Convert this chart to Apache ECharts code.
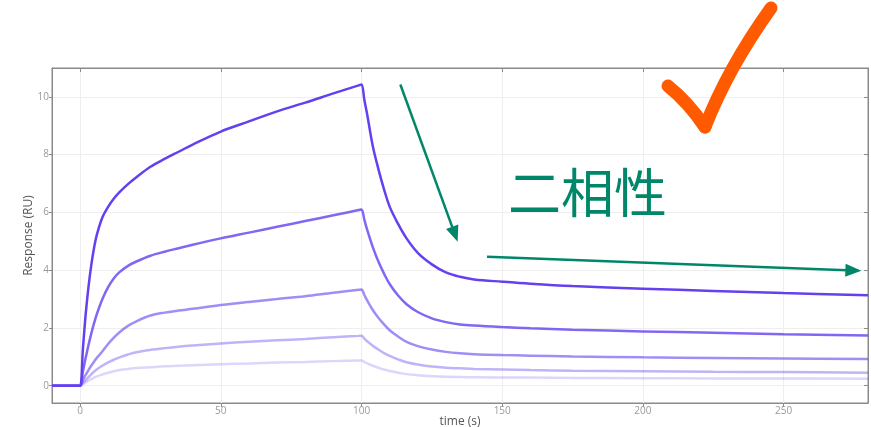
<!DOCTYPE html>
<html>
<head>
<meta charset="utf-8">
<script src="https://cdn.jsdelivr.net/npm/echarts@6/dist/echarts.min.js"></script>
<style>
  html, body { margin: 0; padding: 0; background: #fff; }
  #chart { width: 871px; height: 427px; }
</style>
</head>
<body>
<div id="chart"></div>
<script>
// Sensorgram: association (0–100 s) then dissociation (100–280 s), five analyte concentrations
const time = [-10, -1, 0, 1, 2, 3, 4, 5, 6, 8, 10, 12, 14, 17, 20, 25, 30, 35, 40, 50, 60, 70, 80, 90, 99, 100,
  101, 102, 104, 106, 108, 110, 113, 116, 120, 125, 130, 135, 140, 150, 160, 175, 200, 225, 250, 280];

const conc1 = [0, 0, 0, 1.3, 2.5, 3.45, 4.2, 4.8, 5.25, 5.85, 6.2, 6.48, 6.7, 6.98, 7.22, 7.58, 7.85, 8.1, 8.35,
  8.8, 9.15, 9.5, 9.8, 10.12, 10.4, 10.43, 9.9, 9.4, 8.3, 7.5, 6.8, 6.2, 5.6, 5.1, 4.6, 4.2, 3.92, 3.77, 3.68,
  3.6, 3.53, 3.45, 3.36, 3.28, 3.21, 3.13];
const conc2 = [0, 0, 0, 0.5, 0.98, 1.42, 1.82, 2.18, 2.5, 3.02, 3.42, 3.72, 3.93, 4.15, 4.3, 4.5, 4.64, 4.76, 4.88,
  5.1, 5.3, 5.5, 5.7, 5.9, 6.08, 6.1, 5.75, 5.4, 4.8, 4.3, 3.88, 3.52, 3.12, 2.82, 2.55, 2.33, 2.2, 2.12, 2.08,
  2.03, 1.99, 1.94, 1.88, 1.83, 1.78, 1.74];
const conc3 = [0, 0, 0, 0.2, 0.38, 0.55, 0.7, 0.84, 0.97, 1.2, 1.45, 1.66, 1.85, 2.07, 2.23, 2.43, 2.53, 2.6, 2.66,
  2.79, 2.9, 3.0, 3.1, 3.22, 3.32, 3.33, 3.14, 2.95, 2.62, 2.35, 2.12, 1.92, 1.7, 1.52, 1.37, 1.25, 1.17, 1.12, 1.09,
  1.06, 1.04, 1.01, 0.98, 0.96, 0.94, 0.92];
const conc4 = [0, 0, 0, 0.1, 0.2, 0.3, 0.4, 0.49, 0.57, 0.7, 0.81, 0.9, 0.98, 1.08, 1.16, 1.24, 1.3, 1.35, 1.39,
  1.46, 1.52, 1.57, 1.62, 1.68, 1.725, 1.73, 1.63, 1.54, 1.38, 1.25, 1.13, 1.03, 0.91, 0.81, 0.73, 0.66, 0.62, 0.6, 0.58,
  0.56, 0.54, 0.52, 0.5, 0.48, 0.47, 0.45];
const conc5 = [0, 0, 0, 0.06, 0.12, 0.18, 0.23, 0.28, 0.32, 0.39, 0.45, 0.5, 0.54, 0.58, 0.61, 0.64, 0.67, 0.69, 0.71,
  0.74, 0.77, 0.8, 0.82, 0.85, 0.868, 0.87, 0.82, 0.77, 0.69, 0.62, 0.56, 0.51, 0.45, 0.4, 0.36, 0.33, 0.31, 0.3, 0.29,
  0.28, 0.28, 0.27, 0.26, 0.25, 0.25, 0.24];

const xTicks = [0, 50, 100, 150, 200, 250];
const yTicks = [0, 2, 4, 6, 8, 10];

// Two-phase trend arrows, in data coordinates
const arrowFast = [[113.8, 10.43], [133.2, 5.24]];
const arrowSlow = [[144.6, 4.46], [274.8, 3.99]];

const curves = [
  { values: conc5, color: 'rgba(100, 64, 240, 0.22)' },
  { values: conc4, color: 'rgba(100, 64, 240, 0.40)' },
  { values: conc3, color: 'rgba(100, 64, 240, 0.60)' },
  { values: conc2, color: 'rgba(100, 64, 240, 0.80)' },
  { values: conc1, color: 'rgba(100, 64, 240, 1.0)' }
];

const axisGray = '#8a8a8a';
const labelFont = { fontFamily: 'Open Sans', fontSize: 10, color: '#9a9a9a' };

const series = curves.map(c => ({
  type: 'line',
  data: time.map((t, i) => [t, c.values[i]]),
  showSymbol: false,
  symbol: 'none',
  smooth: 0.35,
  lineStyle: { color: c.color, width: 2.5 },
  z: 3
}));

series.push({
  type: 'line',
  data: [],
  silent: true,
  markLine: {
    silent: true,
    symbol: ['none', 'triangle'],
    symbolSize: [13, 16],
    label: { show: false },
    lineStyle: { color: '#008769', width: 2.5, type: 'solid' },
    data: [
      [{ coord: arrowFast[0] }, { coord: arrowFast[1] }],
      [{ coord: arrowSlow[0] }, { coord: arrowSlow[1] }]
    ]
  },
  z: 4
});

// Hand-drawn check mark strokes
const tickStroke = {
  fill: 'none',
  stroke: '#ff5a00',
  lineWidth: 13,
  lineCap: 'round',
  lineJoin: 'round'
};

const chart = echarts.init(document.getElementById('chart'), null, { renderer: 'canvas' });
chart.setOption({
  animation: false,
  backgroundColor: '#fff',
  grid: {
    left: 52, right: 3, top: 68, bottom: 24,
    outerBoundsMode: 'none',
    containLabel: false,
    show: true, borderColor: axisGray, borderWidth: 1
  },
  xAxis: [{
    type: 'value', min: -10, max: 280, position: 'bottom',
    name: 'time (s)', nameLocation: 'middle', nameGap: 13, nameMoveOverlap: false,
    nameTextStyle: { fontFamily: 'Open Sans', fontSize: 12, color: '#555' },
    axisLine: { show: true, onZero: false, lineStyle: { color: axisGray, width: 1 } },
    axisTick: { show: true, length: 4, customValues: xTicks, lineStyle: { color: axisGray } },
    axisLabel: Object.assign({ customValues: xTicks, margin: 3 }, labelFont),
    splitLine: { show: true, lineStyle: { color: '#eeeeee', width: 1 } }
  }, {
    type: 'value', min: -10, max: 280, position: 'top',
    axisLine: { show: true, onZero: false, lineStyle: { color: axisGray, width: 1 } },
    axisTick: { show: true, inside: true, length: 4, customValues: xTicks, lineStyle: { color: axisGray } },
    axisLabel: { show: false },
    splitLine: { show: false }
  }],
  yAxis: [{
    type: 'value', min: -0.6, max: 11, position: 'left',
    name: 'Response (RU)', nameLocation: 'middle', nameGap: 17, nameMoveOverlap: false,
    nameTextStyle: { fontFamily: 'Open Sans', fontSize: 12, color: '#555' },
    axisLine: { show: true, onZero: false, lineStyle: { color: axisGray, width: 1 } },
    axisTick: { show: true, length: 3, customValues: yTicks, lineStyle: { color: axisGray } },
    axisLabel: Object.assign({ customValues: yTicks, margin: 3 }, labelFont),
    splitLine: { show: true, lineStyle: { color: '#eeeeee', width: 1 } }
  }, {
    type: 'value', min: -0.6, max: 11, position: 'right',
    axisLine: { show: true, onZero: false, lineStyle: { color: axisGray, width: 1 } },
    axisTick: { show: true, inside: true, length: 4, customValues: yTicks, lineStyle: { color: axisGray } },
    axisLabel: { show: false },
    splitLine: { show: false }
  }],
  series: series,
  graphic: [
    {
      type: 'text',
      x: 508, y: 166,
      z: 10,
      style: {
        text: '二相性',
        fontFamily: 'Noto Sans CJK JP',
        fontSize: 53,
        fill: '#008769'
      }
    },
    {
      type: 'bezierCurve',
      z: 10,
      shape: { x1: 668, y1: 86, cpx1: 688, cpy1: 102, x2: 705, y2: 127 },
      style: tickStroke
    },
    {
      type: 'bezierCurve',
      z: 10,
      shape: { x1: 705, y1: 127, cpx1: 728, cpy1: 68, x2: 771, y2: 8 },
      style: tickStroke
    }
  ]
});
</script>
</body>
</html>
